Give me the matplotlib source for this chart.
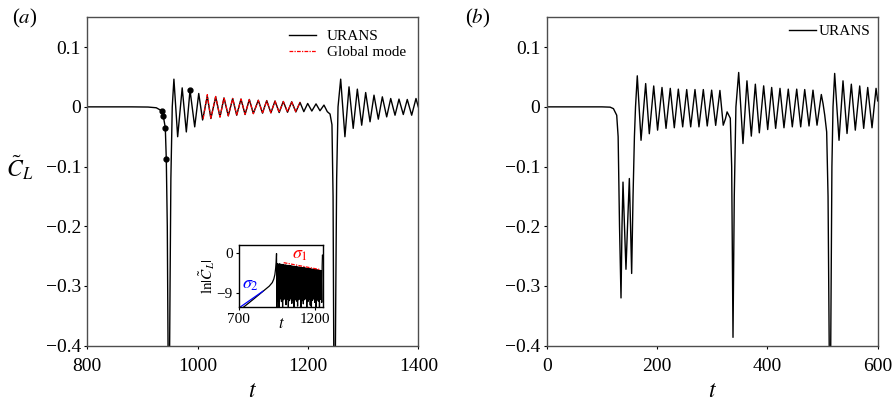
import numpy as np
import matplotlib
matplotlib.use('Agg')
import matplotlib.pyplot as plt

plt.rcParams['font.family'] = ['Liberation Serif', 'DejaVu Serif']
plt.rcParams['mathtext.fontset'] = 'stix'

# ---------------- panel (a): URANS lift signal ----------------
t_a = [800, 880, 910, 925, 936.0, 937.8, 941.4, 943.2, 945, 946.5, 948.5, 950, 951.5, 954,
       957, 963.8, 972, 979.5, 986.2, 994.7, 1002, 1009, 1017.5, 1024, 1032.7, 1040.5,
       1047.8, 1055.6, 1063.5, 1070.8, 1078.6, 1086, 1093.7, 1101, 1110, 1117.6, 1125.2,
       1132.8, 1140.3, 1147.8, 1155.3, 1162.9, 1170.5, 1178, 1185.6, 1192.5, 1199.5, 1207,
       1214.6, 1221.8, 1229, 1235, 1240, 1243.5, 1245.5, 1247, 1249, 1250.5, 1252, 1254.5,
       1259.3, 1267, 1274.4, 1282, 1289.5, 1297.4, 1304.6, 1312.5, 1319.7, 1327.5, 1334.8,
       1342.7, 1350, 1357.8, 1365, 1372.8, 1380, 1388, 1395.8, 1400]
cl_a = [0.0, 0.0, -0.0003, -0.0015, -0.0072, -0.0157, -0.035, -0.088, -0.2, -0.42, -0.5, -0.3, -0.12, 0.0,
        0.0464, -0.050, 0.0318, -0.042, 0.028, -0.0335, 0.0224, -0.022, 0.018, -0.0195, 0.0168, -0.0168,
        0.015, -0.015, 0.014, -0.014, 0.013, -0.0128, 0.0124, -0.011, 0.011, -0.0105, 0.0105,
        -0.010, 0.0098, -0.0095, 0.009, -0.009, 0.0085, -0.0085, 0.0075, -0.008, 0.0057, -0.007,
        0.005, -0.0065, 0.003, -0.008, -0.012, -0.03, -0.15, -0.45, -0.5, -0.3, -0.12, 0.0,
        0.0464, -0.050, 0.0335, -0.036, 0.0297, -0.0307, 0.024, -0.025, 0.0196, -0.0206, 0.0168,
        -0.0168, 0.014, -0.014, 0.013, -0.0128, 0.0124, -0.014, 0.014, 0.0]

# global mode fit
t_gm = [1010, 1017.5, 1024, 1032.7, 1040.5, 1047.8, 1055.6, 1063.5, 1070.8, 1078.6, 1086, 1093.7,
        1101, 1110, 1117.6, 1125.2, 1132.8, 1140.3, 1147.8, 1155.3, 1162.9, 1170.5, 1178, 1185.6]
cl_gm = [-0.02, 0.0205, -0.019, 0.0175, -0.017, 0.0155, -0.015, 0.014, -0.0135, 0.013, -0.0125, 0.012,
         -0.0115, 0.011, -0.0105, 0.0102, -0.0098, 0.0095, -0.009, 0.0088, -0.0085, 0.0082, -0.008, 0.0078]

# marked snapshots
t_dot = [936.0, 937.8, 941.4, 943.2, 986.2]
cl_dot = [-0.0072, -0.0157, -0.035, -0.088, 0.028]

# ---------------- inset: ln|C_L| ----------------
t_grow = [734, 760, 800, 850, 900, 920, 930, 937, 942, 945, 947.5]
ln_grow = [-12, -11.3, -10.2, -8.8, -7.4, -6.6, -5.8, -4.8, -3.4, -2.2, -0.2]
t_dip = [949.5, 957, 964.5, 972, 979.5, 987, 994.5, 1002, 1009.5, 1017, 1024.5, 1032, 1039.5, 1047,
         1054.5, 1062, 1069.5, 1077, 1084.5, 1092, 1099.5, 1107, 1114.5, 1122, 1129.5, 1137, 1144.5,
         1152, 1159.5, 1167, 1174.5, 1182, 1189.5, 1197, 1204.5, 1212, 1219.5, 1227, 1234.5, 1242]
ln_dip = [-12, -10.6, -12, -10.2, -10.8, -12, -10.4, -10.1, -11.5, -10.3, -12, -10.6, -10.2, -11.2,
          -10.5, -12, -10.3, -10.7, -11.8, -10.4, -10.2, -12, -10.6, -11.3, -10.4, -10.2, -12,
          -10.8, -10.3, -11.6, -12, -10.5, -10.2, -11.0, -12, -10.4, -10.7, -12, -10.3, -11.0]
t_pk = [953.25, 960.75, 968.25, 975.75, 983.25, 990.75, 998.25, 1005.75, 1013.25, 1020.75, 1028.25,
        1035.75, 1043.25, 1050.75, 1058.25, 1065.75, 1073.25, 1080.75, 1088.25, 1095.75, 1103.25,
        1110.75, 1118.25, 1125.75, 1133.25, 1140.75, 1148.25, 1155.75, 1163.25, 1170.75, 1178.25,
        1185.75, 1193.25, 1200.75, 1208.25, 1215.75, 1223.25, 1230.75, 1238.25]
ln_pk = [-2.4, -2.5, -2.45, -2.55, -2.6, -2.6, -2.7, -2.7, -2.75, -2.8, -2.85, -2.85, -2.9, -2.95,
         -3.0, -3.0, -3.05, -3.1, -3.15, -3.15, -3.2, -3.25, -3.3, -3.3, -3.35, -3.4, -3.45, -3.45,
         -3.5, -3.55, -3.6, -3.6, -3.65, -3.7, -3.75, -3.8, -3.85, -3.9, -3.95]
t_tail = [1244.5, 1246.5, 1249]
ln_tail = [-3.0, -0.5, -0.8]

t_sig2 = [711.7, 859.5]
ln_sig2 = [-12, -8.5]
t_sig1 = [994, 1226]
ln_sig1 = [-2.2, -3.7]

# ---------------- panel (b) ----------------
t_b = [0, 100, 115, 121, 126.9, 129.5, 132, 134.7, 136.5, 138.3, 141, 143.7, 146.5, 149.8, 152, 154,
       156.5, 159, 161, 164.2, 171, 179.4, 186, 194, 201, 209, 216.3, 224, 231.3, 238.6, 246.5,
       253.8, 261, 268.8, 276, 283.9, 291, 299, 306.3, 314, 320, 324, 327, 332.8, 335.3, 337.7,
       340, 343, 348, 355.8, 363, 370.9, 378.2, 385.4, 393.3, 400.6, 407.8, 415, 422.9, 430.1,
       437.9, 445.2, 453.2, 460.4, 467.7, 475.5, 482.7, 490, 497.8, 501, 504, 507.5, 510, 512.5,
       514.5, 517, 519, 522, 529.9, 537.1, 544.4, 552.2, 559.4, 567.4, 574.6, 581.9, 589.7, 597, 600]
cl_b = [0.0, 0.0, -0.0005, -0.003, -0.014, -0.05, -0.2, -0.32, -0.2, -0.126, -0.2, -0.272, -0.2, -0.12, -0.2, -0.279,
        -0.15, -0.05, 0.0, 0.052, -0.056, 0.039, -0.045, 0.035, -0.039, 0.0325, -0.036, 0.031, -0.035, 0.0297, -0.0335,
        0.029, -0.0335, 0.029, -0.0335, 0.029, -0.032, 0.028, -0.031, 0.0275, -0.0307, -0.02, -0.0084, -0.019, -0.1, -0.386,
        -0.15, 0.0, 0.0576, -0.0614, 0.0436, -0.049, 0.038, -0.0435, 0.0352, -0.038, 0.0325, -0.036, 0.031, -0.035,
        0.0297, -0.0335, 0.0297, -0.0335, 0.029, -0.032, 0.028, -0.0307, 0.0207, 0.005, -0.014, -0.042, -0.15, -0.45,
        -0.45, -0.1, 0.0, 0.056, -0.056, 0.0436, -0.0446, 0.038, -0.039, 0.035, -0.036, 0.0325, -0.035, 0.031, 0.01]

yticks = [-0.4, -0.3, -0.2, -0.1, 0, 0.1]
ylabels = ['\u22120.4', '\u22120.3', '\u22120.2', '\u22120.1', '0', '0.1']
xticks_a = [800, 1000, 1200, 1400]
xticks_b = [0, 200, 400, 600]

# inset series assembled from its pieces
t_ins = list(t_grow)
ln_ins = list(ln_grow)
for i in range(len(t_dip)):
    t_ins.append(t_dip[i]); ln_ins.append(ln_dip[i])
    if i < len(t_pk):
        t_ins.append(t_pk[i]); ln_ins.append(ln_pk[i])
t_ins += t_tail
ln_ins += ln_tail

W, H = 895, 404
fig = plt.figure(figsize=(W / 100, H / 100), dpi=100)
ax1 = fig.add_axes([87.3 / W, 1 - 345.7 / H, 331 / W, 328.4 / H])
ax2 = fig.add_axes([546.7 / W, 1 - 345.7 / H, 331 / W, 328.4 / H])


def style(ax, xt):
    ax.set_ylim(-0.4, 0.15)
    ax.set_yticks(yticks)
    ax.set_yticklabels(ylabels)
    ax.set_xticks(xt)
    ax.tick_params(direction='out', length=2.5, width=0.8, labelsize=14, pad=2, colors='k')
    ax.tick_params(axis='x', pad=6)
    for s in ax.spines.values():
        s.set_color('0.3')
        s.set_linewidth(1.0)
    ax.set_xlabel('$t$', fontsize=17, labelpad=5)


ax1.plot(t_a, cl_a, color='k', lw=1.0, label='URANS')
ax1.plot(t_gm, cl_gm, color='red', lw=0.9, ls=(0, (3, 1, 1, 1)), label='Global mode')
ax1.plot(t_dot, cl_dot, 'o', color='k', ms=3.5)
ax1.set_xlim(800, 1400)
style(ax1, xticks_a)
ax1.legend(loc='upper right', frameon=False, fontsize=11, handlelength=1.8,
           handletextpad=0.7, labelspacing=0.15, borderaxespad=0.4)

ax2.plot(t_b, cl_b, color='k', lw=1.0, label='URANS')
ax2.set_xlim(0, 600)
style(ax2, xticks_b)
ax2.legend(loc='upper right', frameon=False, fontsize=11, handlelength=1.8,
           handletextpad=0.2, borderaxespad=0.15, borderpad=0.3)

fig.text(20 / W, 1 - 168 / H, r'$\tilde{C}_L$', fontsize=17, ha='center', va='center')
fig.text(12 / W, 1 - 18 / H, '($a$)', fontsize=15, ha='left', va='center')
fig.text(465 / W, 1 - 18 / H, '($b$)', fontsize=15, ha='left', va='center')

# inset
axi = fig.add_axes([238.5 / W, 1 - 307 / H, 84.5 / W, 62 / H])
axi.plot(t_ins, ln_ins, color='k', lw=0.9)
axi.plot(t_sig2, ln_sig2, color='blue', lw=0.9)
axi.plot(t_sig1, ln_sig1, color='red', lw=0.9, ls=(0, (3, 1, 1, 1)))
axi.set_xlim(700, 1250)
axi.set_ylim(-12, 1.7)
axi.set_xticks([700, 1200])
axi.set_yticks([0, -9])
axi.set_yticklabels(['0', '\u22129'])
axi.tick_params(direction='out', length=2.5, width=0.8, labelsize=11, pad=1.5)
for s in axi.spines.values():
    s.set_linewidth(1.0)
axi.text(0.51, -0.28, '$t$', transform=axi.transAxes, fontsize=12, ha='center', va='center')
axi.text(1102, -0.4, r'$\sigma_1$', color='red', fontsize=13, ha='center', va='center')
axi.text(777, -7.0, r'$\sigma_2$', color='blue', fontsize=13, ha='center', va='center')
axi.set_ylabel(r'$\ln|\tilde{C}_L|$', fontsize=11, labelpad=0)

fig.savefig('out.png', dpi=100)
